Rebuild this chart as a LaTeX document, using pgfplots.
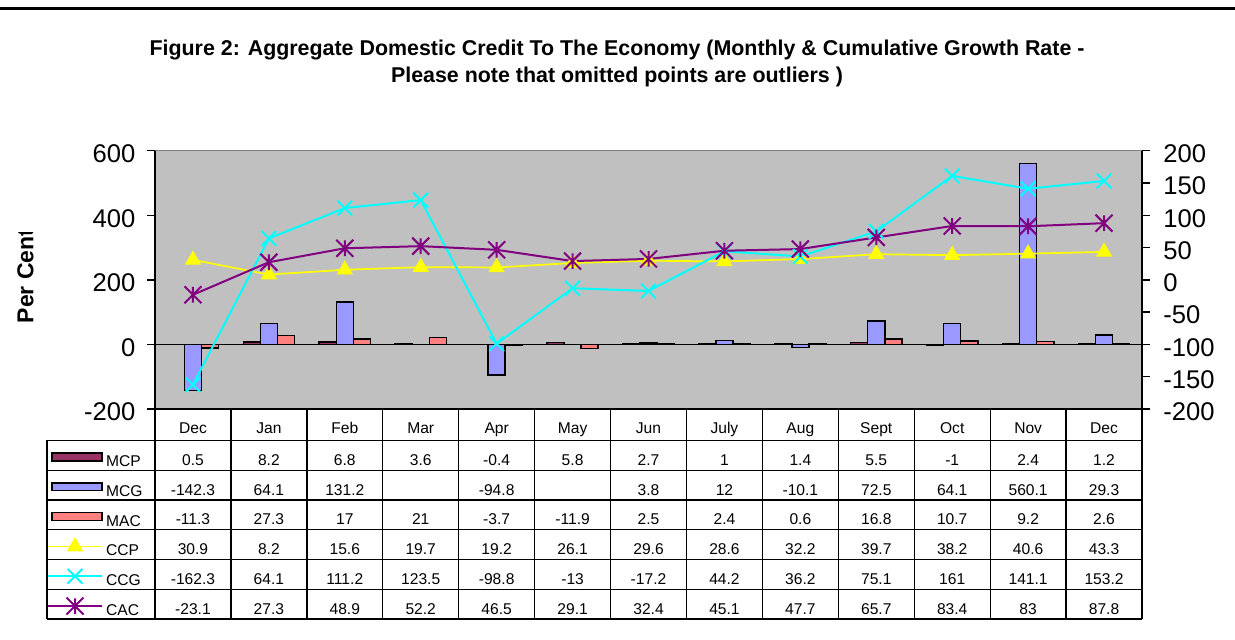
\documentclass[border=0pt]{standalone}
\usepackage{pgfplots}
\pgfplotsset{compat=1.18}
\usepackage{pgfplotstable}
\usepackage{fontspec}
\setmainfont{Liberation Sans}
\definecolor{mcp}{HTML}{993366}
\definecolor{mcg}{HTML}{9999FF}
\definecolor{mac}{HTML}{FF8080}
\definecolor{ccp}{HTML}{FFFF00}
\definecolor{ccg}{HTML}{00FFFF}
\definecolor{cac}{HTML}{800080}
\definecolor{plotbg}{HTML}{C0C0C0}
\definecolor{plotedge}{HTML}{808080}
\newcommand\tablefont{\fontsize{7.8}{9}\selectfont}
\newcommand\tickfont{\fontsize{12.8}{15}\selectfont}

\pgfdeclareplotmark{xstar}{%
  \pgfpathmoveto{\pgfqpoint{-.7071\pgfplotmarksize}{-.7071\pgfplotmarksize}}%
  \pgfpathlineto{\pgfqpoint{.7071\pgfplotmarksize}{.7071\pgfplotmarksize}}%
  \pgfpathmoveto{\pgfqpoint{-.7071\pgfplotmarksize}{.7071\pgfplotmarksize}}%
  \pgfpathlineto{\pgfqpoint{.7071\pgfplotmarksize}{-.7071\pgfplotmarksize}}%
  \pgfpathmoveto{\pgfqpoint{0pt}{.65\pgfplotmarksize}}%
  \pgfpathlineto{\pgfqpoint{0pt}{-.65\pgfplotmarksize}}%
  \pgfusepathqstroke}

\pgfplotsset{
  barlegend/.style={legend image code/.code={\draw[##1] (2pt,2.85pt) rectangle (27pt,6.7pt);}},
  linelegend/.style={legend image code/.code={\draw[mark repeat=2,mark phase=2,##1] plot coordinates {(0pt,4.6pt) (13.5pt,4.6pt) (27pt,4.6pt)};}},
  common/.style={at={(77.5pt,-204.5pt)}, anchor=south west, width=493.5pt, height=129.15pt,
    scale only axis, xmin=-0.5, xmax=12.5, /pgf/number format/assume math mode=true},
}

\pgfplotstableread{
x  mon  MCP   MCG    MAC   CCP  CCG    CAC
0  Dec  0.5   -142.3 -11.3 30.9 -162.3 -23.1
1  Jan  8.2   64.1   27.3  8.2  64.1   27.3
2  Feb  6.8   131.2  17    15.6 111.2  48.9
3  Mar  3.6   nan    21    19.7 123.5  52.2
4  Apr  -0.4  -94.8  -3.7  19.2 -98.8  46.5
5  May  5.8   nan    -11.9 26.1 -13    29.1
6  Jun  2.7   3.8    2.5   29.6 -17.2  32.4
7  July 1     12     2.4   28.6 44.2   45.1
8  Aug  1.4   -10.1  0.6   32.2 36.2   47.7
9  Sept 5.5   72.5   16.8  39.7 75.1   65.7
10 Oct  -1    64.1   10.7  38.2 161    83.4
11 Nov  2.4   560.1  9.2   40.6 141.1  83
12 Dec  1.2   29.3   2.6   43.3 153.2  87.8
}\data

\begin{document}
\begin{tikzpicture}
\useasboundingbox (0,0) rectangle (617.5pt,-320pt);
% left axis with bars
\begin{axis}[common, ymin=-200, ymax=600, ytick={-200,0,200,400,600},
  axis x line*=bottom, axis y line*=left, xtick=\empty,
  tick align=outside, major tick length=4pt,
  axis line style={line width=0.75pt,-},
  every tick/.style={black, line width=0.75pt},
  yticklabel style={font=\tickfont, inner sep=0pt, xshift=-5.65pt, yshift=-1.5pt},
  axis background/.style={fill=plotbg},
  ybar, bar width=0.225,
]
\draw[plotedge, line width=0.6pt] (rel axis cs:0,1) -- (rel axis cs:1,1);
\draw[black, line width=0.75pt] (axis cs:-0.5,0) -- (axis cs:12.5,0);
\addplot[fill=mcp, draw=black, line width=0.75pt, bar shift=-0.225] table[x=x,y=MCP]{\data};
\addplot[fill=mcg, draw=black, line width=0.75pt, bar shift=0] table[x=x,y=MCG]{\data};
\addplot[fill=mac, draw=black, line width=0.75pt, bar shift=0.225] table[x=x,y=MAC]{\data};
\end{axis}
% right axis with lines
\begin{axis}[common, ymin=-200, ymax=200, ytick={-200,-150,...,200},
  axis x line=none, axis y line*=right,
  tick align=outside, major tick length=4pt,
  axis line style={line width=0.75pt,-},
  every tick/.style={black, line width=0.75pt},
  yticklabel style={font=\tickfont, inner sep=0pt, xshift=6.5pt, yshift=-1.5pt},
  legend style={at={(axis description cs:-0.10942,-0.12195)}, anchor=north west,
    draw=none, fill=none, inner sep=0pt, outer sep=0pt, font=\tablefont,
    /tikz/column sep=1.6pt, /tikz/row sep=0pt, cells={anchor=base west},
    nodes={inner sep=0pt, text height=13pt, text depth=1.875pt}},
]
\addlegendimage{barlegend, fill=mcp, draw=black, line width=0.75pt}\addlegendentry{MCP}
\addlegendimage{barlegend, fill=mcg, draw=black, line width=0.75pt}\addlegendentry{MCG}
\addlegendimage{barlegend, fill=mac, draw=black, line width=0.75pt}\addlegendentry{MAC}
\addplot[linelegend, color=ccp, line width=0.85pt, mark=triangle*, mark size=4.3pt,
  mark options={fill=ccp, draw=ccp, line width=0.4pt}] table[x=x,y=CCP]{\data};
\addlegendentry{CCP}
\addplot[linelegend, color=ccg, line width=1pt, mark=x, mark size=5.2pt] table[x=x,y=CCG]{\data};
\addlegendentry{CCG}
\addplot[linelegend, color=cac, line width=1pt, mark=xstar, mark size=6pt] table[x=x,y=CAC]{\data};
\addlegendentry{CAC}
\end{axis}
% data table text
\begin{axis}[at={(77.5pt,-204.5pt)}, anchor=north west, width=493.5pt, height=105pt,
  scale only axis, xmin=-0.5, xmax=12.5, ymin=-619, ymax=-409, hide axis, clip=false,
  nodes near coords, point meta=explicit symbolic,
  nodes near coords style={anchor=base, font=\tablefont, inner sep=0pt, text=black}]
\addplot[draw=none, mark=none] table[x=x, y expr=-433.3, meta=mon]{\data};
\addplot[draw=none, mark=none] table[x=x, y expr=-465.25, meta=MCP]{\data};
\addplot[draw=none, mark=none, x filter/.expression={or(\coordindex==3,\coordindex==5)?nan:x}] table[x=x, y expr=-495, meta=MCG]{\data};
\addplot[draw=none, mark=none] table[x=x, y expr=-524.75, meta=MAC]{\data};
\addplot[draw=none, mark=none] table[x=x, y expr=-554.5, meta=CCP]{\data};
\addplot[draw=none, mark=none] table[x=x, y expr=-584.25, meta=CCG]{\data};
\addplot[draw=none, mark=none] table[x=x, y expr=-614, meta=CAC]{\data};
\end{axis}
\begin{scope}[x=0.5pt, y=-0.5pt, line width=0.65pt]
\draw (155,409) -- (1142,409);
\foreach \yy in {440.5,470.25,500,529.75,559.5,589.25,619} \draw (47,\yy) -- (1142,\yy);
\foreach \k in {0,...,13} \draw ({155+\k*75.923},409) -- ({155+\k*75.923},619);
\draw (47,440.5) -- (47,619);
\draw[line width=1.35pt] (0,8.7) -- (1235,8.7);
\node[font=\bfseries\fontsize{10.7}{13.5}\selectfont, align=center] at (617,63.5)
  {Figure 2: Aggregate Domestic Credit To The Economy (Monthly \& Cumulative Growth Rate -\\Please note that omitted points are outliers )};
\begin{scope}
\clip (0,232.5) rectangle (80,340);
\node[rotate=90, anchor=base, inner sep=0pt, font=\bfseries\fontsize{11.5}{13}\selectfont] at (33.3,276) {Per Cent};
\end{scope}
\end{scope}
\end{tikzpicture}
\end{document}
